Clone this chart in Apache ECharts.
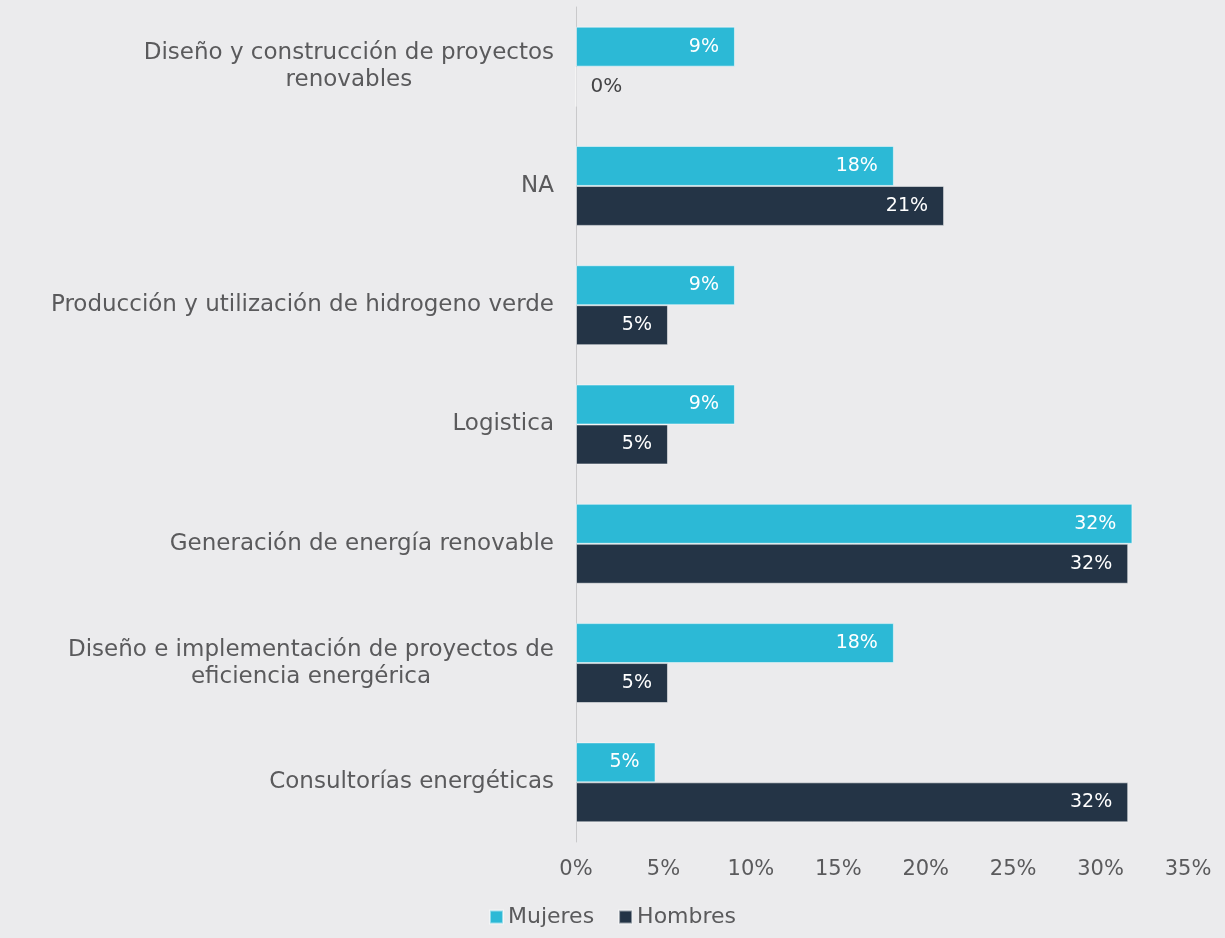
<!DOCTYPE html>
<html>
<head>
<meta charset="utf-8">
<script src="https://cdn.jsdelivr.net/npm/echarts@6/dist/echarts.min.js"></script>
<style>
  html, body { margin: 0; padding: 0; background: #ebebed; }
  #chart { width: 1225px; height: 938px; }
</style>
</head>
<body>
<div id="chart"></div>
<script>
const categories = [
  'Diseño y construcción de proyectos\nrenovables',
  'NA',
  'Producción y utilización de hidrogeno verde',
  'Logistica',
  'Generación de energía renovable',
  'Diseño e implementación de proyectos de\neficiencia energérica',
  'Consultorías energéticas'
];
const mujeres = [9.09, 18.18, 9.09, 9.09, 31.82, 18.18, 4.55];
const hombres = [0, 21.05, 5.26, 5.26, 31.58, 5.26, 31.58];
const xTicks = { min: 0, max: 35, interval: 5 };

const FONT = 'DejaVu Sans';
const TEXT = '#5a5a5c';
const chart = echarts.init(document.getElementById('chart'));

// value 0 gets its label outside the bar, in dark text
function withLabels(values) {
  return values.map(v => v === 0
    ? { value: v, label: { position: 'right', color: '#444446', fontSize: 20, distance: 14 } }
    : v);
}

const valueLabel = {
  show: true,
  position: 'insideRight',
  distance: 16,
  color: '#ffffff',
  fontFamily: FONT,
  fontSize: 19,
  formatter: p => Math.round(p.value) + '%'
};

chart.setOption({
  backgroundColor: '#ebebed',
  textStyle: { fontFamily: FONT },
  grid: { left: 576, right: 37, top: 7, bottom: 96, containLabel: false },
  legend: {
    bottom: 5,
    left: 'center',
    icon: 'rect',
    itemWidth: 13,
    itemHeight: 13,
    itemGap: 24,
    textStyle: { fontFamily: FONT, fontSize: 22, color: TEXT, padding: [0, 0, 0, 0] },
    data: ['Mujeres', 'Hombres']
  },
  xAxis: {
    type: 'value',
    min: xTicks.min,
    max: xTicks.max,
    interval: xTicks.interval,
    axisLine: { show: false },
    axisTick: { show: false },
    splitLine: { show: false },
    axisLabel: {
      formatter: '{value}%',
      color: TEXT,
      fontFamily: FONT,
      fontSize: 21,
      margin: 17
    }
  },
  yAxis: {
    type: 'category',
    inverse: true,
    data: categories,
    axisLine: { show: true, lineStyle: { color: '#c9c9cb', width: 1 } },
    axisTick: { show: false },
    axisLabel: {
      margin: 22,
      color: TEXT,
      fontFamily: FONT,
      fontSize: 23,
      lineHeight: 27,
      formatter: v => v.split('\n').map(l => '{c|' + l + '}').join('\n'),
      rich: { c: { align: 'center', fontFamily: FONT, fontSize: 23, lineHeight: 27, color: TEXT } }
    }
  },
  series: [
    {
      name: 'Mujeres',
      type: 'bar',
      data: withLabels(mujeres),
      barGap: '0%',
      barCategoryGap: '33%',
      itemStyle: { color: '#2cb9d6', borderColor: 'rgba(255,255,255,0.5)', borderWidth: 1 },
      label: valueLabel
    },
    {
      name: 'Hombres',
      type: 'bar',
      data: withLabels(hombres),
      barGap: '0%',
      barCategoryGap: '33%',
      itemStyle: { color: '#243446', borderColor: 'rgba(255,255,255,0.5)', borderWidth: 1 },
      label: valueLabel
    }
  ]
});
</script>
</body>
</html>
